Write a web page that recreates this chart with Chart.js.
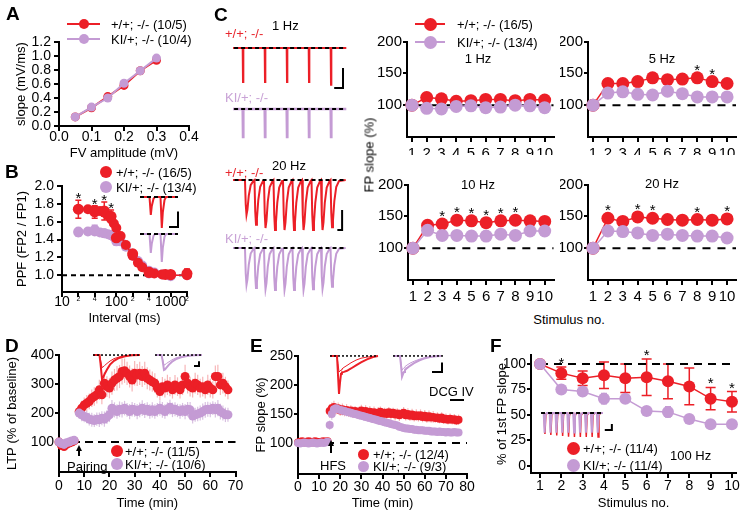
<!DOCTYPE html>
<html><head><meta charset="utf-8"><title>Figure</title>
<script src="https://cdn.jsdelivr.net/npm/chart.js@4.4.1/dist/chart.umd.min.js"></script>
<style>
html,body{margin:0;padding:0;background:#fff;}
body{width:746px;height:518px;position:relative;overflow:hidden;font-family:"Liberation Sans",Arial,Helvetica,sans-serif;color:#000;}
.abs{position:absolute;}
.tx{position:absolute;white-space:nowrap;line-height:1;}
</style></head><body>
<script>
// ================= DATA =================
// Panel A
const aFV = [0.05, 0.10, 0.15, 0.20, 0.25, 0.30];
const aSlopeWT = [0.13, 0.26, 0.42, 0.58, 0.79, 0.94];
const aSlopeKI = [0.13, 0.27, 0.40, 0.61, 0.79, 0.97];
const aTicksX = [0, 0.1, 0.2, 0.3, 0.4];
const aTicksY = [0, 0.2, 0.4, 0.6, 0.8, 1.0, 1.2];
// Panel B
const bInterval = [20, 40, 60, 80, 100, 200, 400, 800, 1000, 2000];
const bPPFWT = [1.74, 1.71, 1.72, 1.66, 1.42, 1.24, 1.03, 1.01, 1.01, 1.02];
const bErrWT = [0.10, 0.07, 0.10, 0.07, 0.07, 0.04, 0.03, 0.03, 0.04, 0.05];
const bPPFKI = [1.48, 1.51, 1.47, 1.45, 1.38, 1.22, 1.02, 1.01, 0.99, 1.01];
const bErrKI = [0.04, 0.05, 0.04, 0.03, 0.04, 0.03, 0.02, 0.02, 0.03, 0.03];
const bFitX = [20, 30, 40, 50, 60, 70, 80, 90, 100, 120, 150, 200, 250, 300, 400, 500, 700, 1000, 2000];
const bFitWT = [1.74, 1.74, 1.73, 1.72, 1.70, 1.67, 1.63, 1.58, 1.53, 1.44, 1.34, 1.22, 1.14, 1.09, 1.04, 1.02, 1.01, 1.00, 1.00];
const bFitKI = [1.49, 1.49, 1.49, 1.48, 1.47, 1.46, 1.45, 1.43, 1.41, 1.38, 1.32, 1.23, 1.16, 1.11, 1.05, 1.03, 1.01, 1.00, 1.00];
const bStars = [20, 40, 60, 80];
const bTicksX = [10, 20, 40, 100, 200, 400, 1000, 2000];
const bTicksY = [1.0, 1.2, 1.4, 1.6, 1.8, 2.0];
// Panel C
const cStim = [1, 2, 3, 4, 5, 6, 7, 8, 9, 10];
const cTicksY = [100, 150, 200];
const c1WT = [100, 112, 110, 106, 107, 109, 109, 107, 109, 108];
const c1KI = [100, 95, 94, 98, 99, 96, 97, 100, 99, 96];
const c5WT = [100, 134, 134, 137, 143, 140, 141, 143, 137, 134];
const c5KI = [100, 119, 121, 117, 116, 122, 118, 113, 113, 113];
const c5ErrKI = [0, 5, 7, 5, 9, 6, 7, 6, 6, 4];
const c5Stars = [8, 9];
const c10WT = [100, 136, 138, 144, 143, 140, 143, 144, 143, 142];
const c10KI = [100, 128, 120, 120, 119, 119, 122, 120, 127, 127];
const c10Stars = [3, 4, 5, 6, 7, 8];
const c20WT = [100, 147, 142, 149, 147, 145, 144, 145, 144, 146];
const c20KI = [100, 127, 126, 124, 120, 122, 120, 119, 119, 116];
const c20Stars = [2, 4, 5, 8, 10];
// C traces
const c1SpikeTimes = [0, 1, 2, 3, 4];
const c1AmpWT = [0.85, 0.85, 0.85, 0.85, 0.92];
const c1AmpKI = [0.70, 0.70, 0.70, 0.70, 0.70];
const c20SpikeTimes = [0, 0.05, 0.10, 0.15, 0.20, 0.25, 0.30, 0.35, 0.40, 0.45];
const c20AmpWT = [0.87, 1.12, 1.20, 1.25, 1.25, 1.25, 1.25, 1.25, 1.25, 1.18];
const c20AmpKI = [0.92, 1.00, 1.03, 1.05, 1.05, 1.05, 1.05, 1.03, 1.02, 0.97];
const shape1Hz = [[-0.01, 0], [0.005, 1], [0.02, 0]];
const shape20Hz = [[0, 0], [0.004, 0.7], [0.008, 1], [0.013, 0.85], [0.02, 0.45], [0.03, 0.15], [0.045, 0.02]];
// B insets
const bInsetTimes = [10, 21];
const bInsetAmpWT = [0.58, 1.0];
const bInsetAmpKI = [0.61, 0.9];
const shapeB = [[-0.5, 0], [0.8, 1], [1.8, 0.5], [3.5, 0.1], [5, 0]];
// Panel D
const dTime = [0,1,2,3,4,5,6,
 8,9,10,11,12,13,14,15,16,17,18,19,20,21,22,23,24,25,26,27,28,29,30,31,32,33,34,35,36,37,
 38,39,40,41,42,43,44,45,46,47,48,49,50,51,52,53,54,55,56,57,58,59,60,61,62,63,64,65,66,67];
const dWT = [100,88,85,92,97,100,104,
 205,217,228,234,240,251,257,263,280,263,
 303,291,286,303,314,320,326,343,346,337,
 326,314,337,331,337,326,337,320,314,308,
 303,286,274,291,286,297,291,280,297,291,
 280,297,326,303,291,286,303,297,286,291,
 280,297,286,280,326,326,297,303,291,280];
const dErrWT = [8,10,9,8,7,8,9,
 22,25,26,28,27,30,32,30,35,33,
 38,36,35,40,38,42,40,45,42,40,
 38,40,42,38,40,36,40,38,36,35,
 34,32,30,33,32,35,33,30,34,32,
 30,35,40,36,34,32,36,35,32,34,
 30,35,32,30,38,40,35,36,34,32];
const dKI = [100,95,92,98,100,104,106,
 200,194,188,186,179,177,174,179,177,182,
 179,186,194,217,211,205,213,211,217,211,
 205,213,211,205,211,217,209,213,205,211,
 205,211,217,211,205,213,220,211,213,209,
 205,211,205,213,211,190,194,197,200,205,
 211,213,211,217,211,217,205,200,194,194];
const dErrKI = [6,7,6,6,5,6,7,
 20,22,20,21,22,24,22,23,25,24,
 26,24,25,28,26,25,27,26,25,24,
 26,25,24,26,25,27,26,24,25,26,
 25,24,26,27,25,24,26,25,24,23,
 25,24,26,25,27,26,24,25,26,28,
 27,26,25,24,26,28,27,26,25,24];
const dTrT = [3, 9.5, 10.5, 12, 13, 14.5, 17, 20, 24, 29, 35, 42, 50];
const dTrWTPost = [0, 0, -0.35, -1.0, -0.95, -0.8, -0.6, -0.4, -0.24, -0.12, -0.05, -0.01, 0];
const dTrWTBase = [0, 0, -0.2, -0.52, -0.5, -0.44, -0.35, -0.25, -0.15, -0.08, -0.03, 0, 0];
const dTrKIPost = [0, 0, -0.2, -0.62, -0.6, -0.52, -0.4, -0.28, -0.17, -0.09, -0.04, -0.01, 0];
const dTrKIBase = [0, 0, -0.15, -0.42, -0.4, -0.35, -0.28, -0.2, -0.12, -0.06, -0.02, 0, 0];
// Panel E
const eTime = [0,1,2,3,4,5,6,7,8,9,10,11,12,13,14,15,16,17,18,19,20,21,22,23,24,25,26,27,28,29,30,
 31,32,33,34,35,36,37,38,39,40,41,42,43,44,45,46,47,48,49,50,51,52,53,54,55,56,57,58,59,60,
 61,62,63,64,65,66,67,68,69,70,71,72,73,74,75,76];
const eWT = [101,102,103,101,102,103,102,101,103,102,101,102,103,102,103,
 155,160,162,158,160,156,158,155,157,154,156,153,155,152,154,156,153,155,152,154,
 151,153,150,152,154,150,152,150,153,150,152,149,151,148,150,152,148,150,147,149,
 146,148,146,148,145,147,144,146,144,145,143,144,142,144,141,142,140,142,140,141,139,140];
const eErrWT = [3,3,4,3,3,4,3,3,4,3,3,4,3,3,4,
 12,10,11,9,10,9,10,9,10,9, 9,10,9,10,9,10,9,10,9,10, 9,10,9,10,9,10,9,10,9,10,
 9,10,9,10,9,10,9,10,9,10, 9,10,9,10,9,10,9,10,9,10, 8,9,8,9,8,9,8,9,8,9, 8,9];
const eKI = [100,99,100,101,100,99,100,101,100,99,100,101,100,101,102,
 131,
 150,158,160,158,157,156,155,154,153,152,151,150,149,148,147,
 146,145,144,143,142,141,140,139,138,137,
 136,135,134,133,132,131,130,128,127,126,
 125,125,124,124,123,123,122,122,122,121,
 121,121,120,120,120,119,120,119,119,118,119,118,118,119,118,118];
const eErrKI = [3,3,3,3,3,3,3,3,3,3,3,3,3,3,3,
 8,
 10,9,8,8,7,8,7,8,7,8, 7,7,6,7,6,7,6,7,6,7, 6,6,7,6,6,7,6,6,7,6,
 6,6,5,6,6,5,6,6,5,6, 5,6,5,6,5,6,5,6,5,6, 5,6,5,6,5,6,5,6,5,6, 5];
const eTrT = [2, 9, 10, 11, 12, 13, 14, 16, 19, 23, 28, 33, 39, 45, 50];
const eTrWTPost = [0, 0, -0.5, -1.0, -0.7, -0.47, -0.43, -0.42, -0.39, -0.33, -0.25, -0.17, -0.09, -0.03, 0];
const eTrWTBase = [0, 0, -0.2, -0.42, -0.4, -0.37, -0.34, -0.3, -0.25, -0.18, -0.11, -0.06, -0.03, -0.01, 0];
const eTrKIPost = [0, 0, -0.25, -0.55, -0.48, -0.42, -0.37, -0.32, -0.26, -0.19, -0.12, -0.07, -0.03, -0.01, 0];
const eTrKIBase = [0, 0, -0.15, -0.37, -0.34, -0.31, -0.28, -0.24, -0.19, -0.14, -0.09, -0.05, -0.02, 0, 0];
// Panel F
const fStim = [1, 2, 3, 4, 5, 6, 7, 8, 9, 10];
const fWT = [100, 91, 86, 89, 86, 87, 83, 78, 66, 63];
const fErrWT = [0, 6, 7, 13, 14, 18, 17, 18, 11, 10];
const fKI = [100, 75, 73, 66, 66, 54, 53, 46, 41, 41];
const fErrKI = [0, 3, 4, 5, 3, 4, 5, 4, 3, 4];
const fStars = [2, 6, 9, 10];
const fTicksY = [0, 25, 50, 75, 100];
const fInsetTimes = [0, 10, 20, 30, 40, 50, 60, 70, 80, 90];
const fInsetAmpWT = [1.05, 1.1, 1.12, 1.15, 1.18, 1.2, 1.2, 1.2, 1.2, 1.2];
const fInsetAmpKI = [0.98, 0.98, 0.98, 0.98, 0.98, 0.98, 0.98, 0.98, 0.98, 0.98];
const shapeF = [[-0.5, 0], [1, 1], [2.5, 0.1], [5, 0]];

// ================= STYLE / HELPERS =================
const RED = '#ec1f27', PUR = '#c49bd4', REDL = '#e8262d', PURL = '#c9a3d6';
const RED_E = 'rgba(238,90,95,0.45)', PUR_E = 'rgba(190,150,205,0.6)';
const FONT = '"Liberation Sans", Arial, sans-serif';
const TF = {size: 14, lineHeight: 1};
Chart.defaults.font.family = FONT;
Chart.defaults.font.size = 13;
Chart.defaults.color = '#000';

function place(b) {
  const d = document.createElement('div'); d.className = 'abs';
  Object.assign(d.style, {left: b.l + 'px', top: b.t + 'px', width: b.w + 'px', height: b.h + 'px'});
  const c = document.createElement('canvas'); c.width = b.w; c.height = b.h;
  c.style.width = b.w + 'px'; c.style.height = b.h + 'px';
  d.appendChild(c); document.body.appendChild(d); return c;
}
function pts(xs, ys) { return xs.map((x, i) => ({x: x, y: ys[i]})); }
function spikeTrace(times, amps, shape, t0, t1, shift) {
  const p = [{x: t0, y: 0}];
  times.forEach((t, i) => shape.forEach(([dt, f]) => p.push({x: t + dt + (shift || 0), y: -amps[i] * f})));
  p.push({x: t1, y: 0}); return p;
}

const errPlugin = {id: 'errbars', beforeDatasetsDraw(chart) {
  const ctx = chart.ctx, ys = chart.scales.y;
  chart.data.datasets.forEach((ds, i) => {
    if (!ds.err) return;
    const meta = chart.getDatasetMeta(i);
    ctx.save(); ctx.strokeStyle = ds.errColor || ds.borderColor; ctx.lineWidth = ds.errWidth || 1.2;
    meta.data.forEach((el, j) => {
      const e = ds.err[j]; if (!e) return;
      const v = ds.data[j].y;
      const y1 = ys.getPixelForValue(v + e), y2 = ys.getPixelForValue(v - e);
      ctx.beginPath(); ctx.moveTo(el.x, y1); ctx.lineTo(el.x, y2);
      const c = ds.cap || 0;
      if (c) { ctx.moveTo(el.x - c, y1); ctx.lineTo(el.x + c, y1); ctx.moveTo(el.x - c, y2); ctx.lineTo(el.x + c, y2); }
      ctx.stroke();
    });
    ctx.restore();
  });
}};
const refPlugin = {id: 'ref', beforeDatasetsDraw(chart, args, opts) {
  if (!opts || opts.y === undefined) return;
  const ctx = chart.ctx, a = chart.chartArea;
  const y = chart.scales.y.getPixelForValue(opts.y);
  const x0 = opts.x0 !== undefined ? chart.scales.x.getPixelForValue(opts.x0) : a.left;
  const x1 = opts.x1 !== undefined ? chart.scales.x.getPixelForValue(opts.x1) : a.right;
  ctx.save(); ctx.strokeStyle = '#000'; ctx.lineWidth = opts.w || 2; ctx.setLineDash(opts.dash || [7, 6]);
  ctx.beginPath(); ctx.moveTo(x0, y); ctx.lineTo(x1, y); ctx.stroke(); ctx.restore();
}};
const starPlugin = {id: 'stars', afterDatasetsDraw(chart) {
  const ctx = chart.ctx;
  chart.data.datasets.forEach(ds => {
    if (!ds.stars) return;
    ctx.save(); ctx.fillStyle = '#000'; ctx.font = '15px ' + FONT; ctx.textAlign = 'center'; ctx.textBaseline = 'alphabetic';
    ds.stars.forEach(xv => {
      const j = ds.data.findIndex(p => p.x === xv); if (j < 0) return;
      const p = ds.data[j]; const e = ds.err ? (ds.err[j] || 0) : 0;
      const x = chart.scales.x.getPixelForValue(xv);
      const y = chart.scales.y.getPixelForValue(p.y + e) - (ds.starGap || 8);
      ctx.fillText('*', x, y + 8);
    });
    ctx.restore();
  });
}};

function axis(o, horiz, size) {
  return {
    type: o.type || 'linear', min: o.min, max: o.max, offset: false,
    border: {display: true, color: '#000', width: 2},
    grid: {display: true, drawOnChartArea: false, drawTicks: true, tickLength: o.tl || 5, tickWidth: 2, color: '#000', lineWidth: 2},
    ticks: {padding: (o.pad !== undefined ? o.pad : 2), autoSkip: false, maxRotation: 0, minRotation: 0, color: '#000',
            font: o.font || TF, callback: o.cb || (v => String(v))},
    afterBuildTicks: s => { s.ticks = o.ticks.map(v => ({value: v})); },
    afterFit: s => { if (horiz) s.height = size; else s.width = size; },
    title: o.title ? {display: true, text: o.title, color: '#000', font: {size: 13}, padding: o.tpad || 0} : {display: false}
  };
}
function mk(b, a, datasets, X, Y, ref) {
  const cv = place(b);
  const Wy = a.l - b.l, Hx = b.t + b.h - a.b, pt = a.t - b.t, pr = b.l + b.w - a.r;
  datasets.forEach((d, i) => { d.order = datasets.length - i; d.clip = false; });
  return new Chart(cv, {type: 'line', data: {datasets: datasets},
    options: {responsive: false, animation: false, events: [],
      layout: {padding: {top: pt, right: pr, left: 0, bottom: 0}},
      plugins: {legend: {display: false}, tooltip: {enabled: false}, ref: ref || {}},
      scales: {x: axis(X, true, Hx), y: axis(Y, false, Wy)}},
    plugins: [errPlugin, refPlugin, starPlugin]});
}
function series(data, color, o) {
  o = o || {};
  return Object.assign({data: data, borderColor: color, backgroundColor: color, pointBackgroundColor: color,
    pointBorderWidth: 0, pointRadius: o.r || 5, borderWidth: o.w || 1.5, showLine: o.line !== false, tension: 0}, o.extra || {});
}
function trace(b, xr, yr, sets) {
  const cv = place(b);
  const ds = sets.map((s, i) => ({data: s.data, borderColor: s.c, borderWidth: s.w || 1.5, borderDash: s.dash || [],
    pointRadius: 0, tension: 0, clip: false, fill: false, order: sets.length - i}));
  new Chart(cv, {type: 'line', data: {datasets: ds}, options: {responsive: false, animation: false, events: [],
    layout: {padding: 0}, plugins: {legend: {display: false}, tooltip: {enabled: false}},
    scales: {x: {type: 'linear', display: false, min: xr[0], max: xr[1]}, y: {type: 'linear', display: false, min: yr[0], max: yr[1]}}}});
}
function base(x0, x1) { return [{x: x0, y: 0}, {x: x1, y: 0}]; }
function bar(x, yb, h, w) { return [{x: x, y: yb + h}, {x: x, y: yb}, {x: x - w, y: yb}]; }

function txt(s, x, y, o) {
  o = o || {};
  const d = document.createElement('div'); d.className = 'tx'; d.textContent = s;
  const size = o.size || 13; d.style.fontSize = size + 'px';
  if (o.bold) d.style.fontWeight = 'bold';
  if (o.color) d.style.color = o.color;
  d.style.left = x + 'px'; d.style.top = (y - size * 0.5) + 'px';
  if (o.anchor === 'c') d.style.transform = 'translateX(-50%)';
  document.body.appendChild(d);
}
function vtxt(s, x, y, size) {
  const d = document.createElement('div'); d.className = 'tx'; d.textContent = s; d.style.fontSize = (size || 13) + 'px';
  d.style.left = x + 'px'; d.style.top = y + 'px'; d.style.transform = 'translate(-50%,-50%) rotate(-90deg)';
  document.body.appendChild(d);
}
function rect(x, y, w, h, c, round) {
  const d = document.createElement('div'); d.className = 'abs';
  Object.assign(d.style, {left: x + 'px', top: y + 'px', width: w + 'px', height: h + 'px', background: c});
  if (round) d.style.borderRadius = '50%';
  document.body.appendChild(d);
}
function dot(x, y, r, c) { rect(x - r, y - r, 2 * r, 2 * r, c, true); }
function legLine(x1, x2, y, r, c) { rect(x1, y - 1, x2 - x1, 2, c); dot((x1 + x2) / 2, y, r, c); }
function arrowUp(x, yTip, yTail) {
  rect(x - 0.75, yTip + 4, 1.5, yTail - yTip - 4, '#000');
  const t = document.createElement('div'); t.className = 'abs';
  Object.assign(t.style, {left: (x - 3) + 'px', top: yTip + 'px', width: 0, height: 0,
    borderLeft: '3px solid transparent', borderRight: '3px solid transparent', borderBottom: '6px solid #000'});
  document.body.appendChild(t);
}

// ================= PANEL A =================
mk({l: 0, t: 32, w: 200, h: 129}, {l: 59, t: 42, r: 189, b: 126}, [
  series(pts(aFV, aSlopeWT), RED, {r: 4.5, w: 2}),
  series(pts(aFV, aSlopeKI), PUR, {r: 4.5, w: 2})
], {min: 0, max: 0.4, ticks: aTicksX, cb: v => v.toFixed(1), pad: -1, title: 'FV amplitude (mV)', tpad: 0},
   {min: 0, max: 1.2, ticks: aTicksY, cb: v => v.toFixed(1), tl: 5, pad: 3, title: 'slope (mV/ms)', tpad: 14});
legLine(67, 100, 24, 5, RED); txt('+/+; -/- (10/5)', 111, 24);
legLine(67, 100, 39, 5, PUR); txt('KI/+; -/- (10/4)', 111, 39);

// ================= PANEL B =================
mk({l: 0, t: 176, w: 200, h: 150}, {l: 62, t: 184, r: 187, b: 292}, [
  series(pts(bFitX, bFitKI), PUR, {r: 0, w: 1.5}),
  series(pts(bInterval, bPPFKI), PUR, {r: 5, line: false, extra: {err: bErrKI, cap: 3, errWidth: 1.5}}),
  series(pts(bFitX, bFitWT), RED, {r: 0, w: 1.5}),
  series(pts(bInterval, bPPFWT), RED, {r: 5.5, line: false, extra: {err: bErrWT, cap: 3, errWidth: 1.5, stars: bStars, starGap: 5}})
], {type: 'logarithmic', min: 10, max: 2000, ticks: bTicksX, pad: -1.5,
    cb: v => ([10, 100, 1000].includes(v) ? String(v) : String(v).charAt(0)),
    font: ctx => (ctx.tick && [10, 100, 1000].includes(ctx.tick.value)) ? {size: 14, lineHeight: 1} : {size: 7, lineHeight: 1},
    title: 'Interval (ms)', tpad: 0},
   {min: 0.813, max: 2.0, ticks: bTicksY, cb: v => v.toFixed(1), pad: 3, title: 'PPF (FP2 / FP1)', tpad: 15},
   {y: 1.0, dash: [5, 4]});
dot(106, 172, 6, RED); txt('+/+; -/- (16/5)', 116, 172);
dot(106, 187, 6, PUR); txt('KI/+; -/- (13/4)', 116, 187);
// B insets
trace({l: 138, t: 192, w: 45, h: 40}, [-2, 43], [-1.13, 0.16], [
  {data: spikeTrace(bInsetTimes, bInsetAmpWT, shapeB, 0, 38), c: RED, w: 2},
  {data: base(0, 38), c: '#000', w: 2, dash: [4, 3]},
  {data: bar(38, -0.97, 0.5, 9), c: '#000', w: 2}
]);
trace({l: 138, t: 229, w: 45, h: 38}, [-2, 43], [-1.066, 0.16], [
  {data: spikeTrace(bInsetTimes, bInsetAmpKI, shapeB, 0, 38), c: PUR, w: 2},
  {data: base(0, 38), c: '#000', w: 2, dash: [4, 3]}
]);

// ================= PANEL C =================
const CF = {size: 15, lineHeight: 1};
function cChart(b, a, wt, ki, stars, kiErr) {
  return mk(b, a, [
    series(pts(cStim, wt), RED, {r: 6.5, w: 1.5, extra: {stars: stars, starGap: 11}}),
    series(pts(cStim, ki), PUR, {r: 6.5, w: 1.5, extra: kiErr ? {err: kiErr, errColor: PUR, errWidth: 1.5} : {}})
  ], {min: 0.664, max: 10.6, ticks: cStim, pad: 4.5, font: CF},
     {min: 50, max: 200, ticks: cTicksY, tl: 4, pad: 1, font: CF},
     {y: 100, x0: 1.3, x1: 10.6, dash: [8, 7]});
}
cChart({l: 360, t: 33, w: 200, h: 122}, {l: 407, t: 41, r: 555, b: 137}, c1WT, c1KI, null);
cChart({l: 560, t: 33, w: 186, h: 122}, {l: 588, t: 41, r: 736, b: 137}, c5WT, c5KI, c5Stars, c5ErrKI);
cChart({l: 360, t: 176, w: 200, h: 130}, {l: 408, t: 184, r: 556, b: 280}, c10WT, c10KI, c10Stars);
cChart({l: 560, t: 176, w: 186, h: 130}, {l: 588, t: 184, r: 736, b: 280}, c20WT, c20KI, c20Stars);
legLine(415, 445, 24, 6.5, RED); txt('+/+; -/- (16/5)', 457, 24);
legLine(415, 445, 42, 6.5, PUR); txt('KI/+; -/- (13/4)', 457, 42);
txt('1 Hz', 478, 58, {anchor: 'c'}); txt('5 Hz', 662, 58, {anchor: 'c'});
txt('10 Hz', 478, 184, {anchor: 'c'}); txt('20 Hz', 662, 183, {anchor: 'c'});
vtxt('FP slope (%)', 369, 155, 13);
txt('Stimulus no.', 569, 319, {anchor: 'c'});
// C traces
trace({l: 233, t: 40, w: 115, h: 52}, [-0.45, 4.777], [-1.1, 0.2], [
  {data: spikeTrace(c1SpikeTimes, c1AmpWT, shape1Hz, -0.45, 4.7), c: RED, w: 2},
  {data: base(-0.4, 4.65), c: '#000', w: 2, dash: [4, 3]},
  {data: bar(4.55, -1.0, 0.5, 0.4), c: '#000', w: 2}
]);
trace({l: 233, t: 102, w: 115, h: 40}, [-0.45, 4.777], [-0.825, 0.175], [
  {data: spikeTrace(c1SpikeTimes, c1AmpKI, shape1Hz, -0.45, 4.7), c: PUR, w: 2.5},
  {data: base(-0.4, 4.65), c: '#000', w: 2, dash: [4, 3]}
]);
trace({l: 233, t: 174, w: 115, h: 62}, [-0.063, 0.542], [-1.4, 0.15], [
  {data: spikeTrace(c20SpikeTimes, c20AmpWT, shape20Hz, -0.063, 0.53), c: RED, w: 2},
  {data: base(-0.055, 0.52), c: '#000', w: 2, dash: [4, 3]},
  {data: bar(0.511, -1.25, 0.5, 0.025), c: '#000', w: 2}
]);
trace({l: 233, t: 242, w: 115, h: 55}, [-0.063, 0.542], [-1.225, 0.15], [
  {data: spikeTrace(c20SpikeTimes, c20AmpKI, shape20Hz, -0.063, 0.53), c: PUR, w: 2},
  {data: base(-0.055, 0.52), c: '#000', w: 2, dash: [4, 3]}
]);
txt('+/+; -/-', 225, 33, {color: REDL}); txt('1 Hz', 272, 25);
txt('KI/+; -/-', 225, 97, {color: PURL});
txt('+/+; -/-', 225, 172, {color: REDL}); txt('20 Hz', 272, 165);
txt('KI/+; -/-', 225, 238, {color: PURL});

// ================= PANEL D =================
mk({l: 0, t: 347, w: 245, h: 164}, {l: 59, t: 355, r: 237, b: 472}, [
  series(pts(dTime, dWT), RED, {r: 4.5, line: false, extra: {err: dErrWT, errColor: RED_E, errWidth: 1.2}}),
  series(pts(dTime, dKI), PUR, {r: 4.5, line: false, extra: {err: dErrKI, errColor: PUR_E, errWidth: 1.2}})
], {min: 0, max: 70, ticks: [0, 10, 20, 30, 40, 50, 60, 70], pad: 1.7, title: 'Time (min)', tpad: 0},
   {min: -3, max: 400, ticks: [100, 200, 300, 400], tl: 4, pad: 1, title: 'LTP (% of baseline)', tpad: 5},
   {y: 100, dash: [8, 5]});
dot(117, 451, 6, RED); txt('+/+; -/- (11/5)', 125, 451);
dot(117, 464, 6, PUR); txt('KI/+; -/- (10/6)', 125, 464);
txt('Pairing', 67, 466); arrowUp(79, 445, 456);
trace({l: 90, t: 350, w: 55, h: 35}, [0, 55], [-1.248, 0.21], [
  {data: pts(dTrT, dTrWTBase), c: RED, w: 1},
  {data: pts(dTrT, dTrWTPost), c: RED, w: 2},
  {data: base(3, 50), c: '#000', w: 1.5, dash: [2, 2]}
]);
trace({l: 152, t: 350, w: 52, h: 35}, [0, 52], [-1.248, 0.21], [
  {data: pts(dTrT, dTrKIBase), c: PUR, w: 1},
  {data: pts(dTrT, dTrKIPost), c: PUR, w: 2},
  {data: base(3, 50), c: '#000', w: 1.5, dash: [2, 2]},
  {data: bar(47, -0.46, 0.2, 5), c: '#000', w: 2}
]);

// ================= PANEL E =================
mk({l: 250, t: 348, w: 240, h: 163}, {l: 298, t: 356, r: 467, b: 474}, [
  series(pts(eTime, eWT), RED, {r: 4, line: false, extra: {err: eErrWT, errColor: RED_E, errWidth: 1.2}}),
  series(pts(eTime, eKI), PUR, {r: 4, line: false, extra: {err: eErrKI, errColor: PUR_E, errWidth: 1.2}})
], {min: 0, max: 80, ticks: [0, 10, 20, 30, 40, 50, 60, 70, 80], pad: 0.7, title: 'Time (min)', tpad: 0},
   {min: 46.6, max: 250, ticks: [100, 150, 200, 250], tl: 4, pad: 1, title: 'FP slope (%)', tpad: 4},
   {y: 100, dash: [8, 6]});
dot(363, 454, 5.5, RED); txt('+/+; -/- (12/4)', 373, 454);
dot(363, 466, 5.5, PUR); txt('KI/+; -/- (9/3)', 373, 466);
txt('HFS', 320, 465); arrowUp(331, 440, 453);
txt('DCG IV', 429, 391); rect(450, 399, 14, 2, '#000');
trace({l: 328, t: 351, w: 55, h: 48}, [0, 55], [-1.133, 0.13], [
  {data: pts(eTrT, eTrWTBase), c: RED, w: 1},
  {data: pts(eTrT, eTrWTPost), c: RED, w: 2},
  {data: base(2, 50), c: '#000', w: 1.5, dash: [2, 2]}
]);
trace({l: 391, t: 351, w: 55, h: 48}, [0, 55], [-1.133, 0.13], [
  {data: pts(eTrT, eTrKIBase), c: PUR, w: 1},
  {data: pts(eTrT, eTrKIPost), c: PUR, w: 2},
  {data: base(2, 52), c: '#000', w: 1.5, dash: [2, 2]},
  {data: bar(51, -0.42, 0.25, 10), c: '#000', w: 2}
]);

// ================= PANEL F =================
mk({l: 490, t: 347, w: 256, h: 164}, {l: 531, t: 355, r: 736, b: 473}, [
  series(pts(fStim, fWT), RED, {r: 6, w: 1.5, extra: {err: fErrWT, cap: 5, errColor: RED, errWidth: 1.5, stars: fStars, starGap: 7}}),
  series(pts(fStim, fKI), PUR, {r: 6, w: 1.5, extra: {err: fErrKI, cap: 3, errColor: PUR, errWidth: 1.5}})
], {min: 0.578, max: 10.19, ticks: fStim, pad: 1.4, title: 'Stimulus no.', tpad: 0},
   {min: -6.9, max: 108.8, ticks: fTicksY, tl: 4, pad: 1, title: '% of 1st FP slope', tpad: 5},
   {y: 100, x0: 1, x1: 10, dash: [8, 6]});
dot(573, 448, 6.5, RED); txt('+/+; -/- (11/4)', 583, 448);
dot(573, 465, 6.5, PUR); txt('KI/+; -/- (11/4)', 583, 465);
txt('100 Hz', 670, 455);
trace({l: 538, t: 407, w: 80, h: 35}, [-10.17, 125.4], [-1.45, 0.3], [
  {data: spikeTrace(fInsetTimes, fInsetAmpWT, shapeF, -5, 100, 0.6), c: RED, w: 1.5},
  {data: spikeTrace(fInsetTimes, fInsetAmpKI, shapeF, -5, 100, 0), c: PUR, w: 2},
  {data: base(-5, 100), c: '#000', w: 2, dash: [4, 3]},
  {data: bar(115, -0.85, 0.3, 12), c: '#000', w: 2}
]);

// ================= PANEL LETTERS =================
txt('A', 6, 13, {size: 19, bold: true});
txt('B', 5, 171, {size: 19, bold: true});
txt('C', 214, 14, {size: 19, bold: true});
txt('D', 5, 345, {size: 19, bold: true});
txt('E', 250, 345, {size: 19, bold: true});
txt('F', 490, 345, {size: 19, bold: true});
</script>
</body></html>
